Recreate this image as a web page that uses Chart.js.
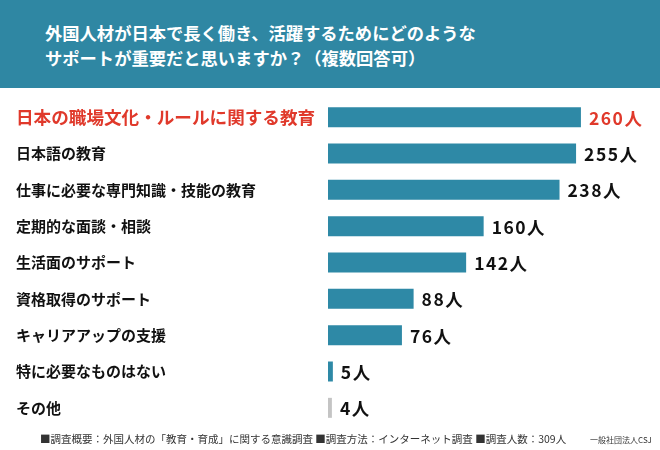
<!DOCTYPE html>
<html lang="ja">
<head>
<meta charset="utf-8">
<script src="https://cdn.jsdelivr.net/npm/chart.js@4.4.1/dist/chart.umd.min.js"></script>
<style>
  html, body { margin: 0; padding: 0; background: #fff; }
  body { width: 660px; height: 450px; position: relative; overflow: hidden; font-family: "Noto Sans CJK JP", "Noto Sans", sans-serif; }
  #header { position: absolute; left: 0; top: 0; width: 660px; height: 88px; background: #2f87a3; }
  #title { position: absolute; left: 45px; top: 20px; color: #fff; font-size: 17.3px; font-weight: bold; line-height: 25px; }
  #chart-wrap { position: absolute; left: 0; top: 0; width: 660px; height: 450px; }
  #footer { position: absolute; left: 40px; top: 431px; font-size: 10.5px; color: #333; white-space: nowrap; }
  #credit { position: absolute; left: 590px; top: 434px; font-size: 8px; color: #333; white-space: nowrap; }
</style>
</head>
<body>
<div id="header"><div id="title">外国人材が日本で長く働き、活躍するためにどのような<br>サポートが重要だと思いますか？（複数回答可）</div></div>
<div id="chart-wrap"><canvas id="chart"></canvas></div>
<div id="footer">■調査概要：外国人材の「教育・育成」に関する意識調査 ■調査方法：インターネット調査 ■調査人数：309人</div>
<div id="credit">一般社団法人CSJ</div>
<script>
// 回答項目
const categories = [
    '日本の職場文化・ルールに関する教育',
    '日本語の教育',
    '仕事に必要な専門知識・技能の教育',
    '定期的な面談・相談',
    '生活面のサポート',
    '資格取得のサポート',
    'キャリアアップの支援',
    '特に必要なものはない',
    'その他'
];
// 回答人数
const counts = [260, 255, 238, 160, 142, 88, 76, 5, 4];
const unit = '人';

const barColor = '#2e89a6';
const otherColor = '#c4c4c4';
const highlightColor = '#e0392b';

// 値ラベルを描くプラグイン
const valueLabels = {
    id: 'valueLabels',
    afterDatasetsDraw(chart) {
        const ctx = chart.ctx;
        const meta = chart.getDatasetMeta(0);
        ctx.save();
        ctx.font = 'bold 17.5px "Noto Sans CJK JP"';
        ctx.textBaseline = 'middle';
        ctx.textAlign = 'left';
        if ('letterSpacing' in ctx) ctx.letterSpacing = '1.5px';
        meta.data.forEach(function (bar, i) {
            ctx.fillStyle = i === 0 ? highlightColor : '#111';
            ctx.fillText(counts[i] + unit, bar.x + 8, bar.y + 1);
        });
        ctx.restore();
    }
};

new Chart(document.getElementById('chart'), {
    type: 'bar',
    data: {
        labels: categories,
        datasets: [{
            data: counts,
            backgroundColor: counts.map((v, i) => i === counts.length - 1 ? otherColor : barColor),
            borderWidth: 0,
            categoryPercentage: 1,
            barPercentage: 0.55
        }]
    },
    options: {
        indexAxis: 'y',
        responsive: true,
        maintainAspectRatio: false,
        animation: false,
        layout: { padding: { left: 16, right: 10, top: 99, bottom: 24 } },
        scales: {
            x: { display: false, min: 0, max: 331 },
            y: {
                grid: { display: false },
                border: { display: false },
                afterFit(scale) { scale.width = 312; },
                ticks: {
                    crossAlign: 'far',
                    padding: 0,
                    color: (c) => c.index === 0 ? highlightColor : '#111',
                    font: (c) => c.index === 0
                        ? { family: '"Noto Sans CJK JP"', size: 17.6, weight: 'bold' }
                        : { family: '"Noto Sans CJK JP"', size: 15, weight: 'bold' }
                }
            }
        },
        plugins: {
            legend: { display: false },
            tooltip: { enabled: false }
        }
    },
    plugins: [valueLabels]
});
</script>
</body>
</html>
